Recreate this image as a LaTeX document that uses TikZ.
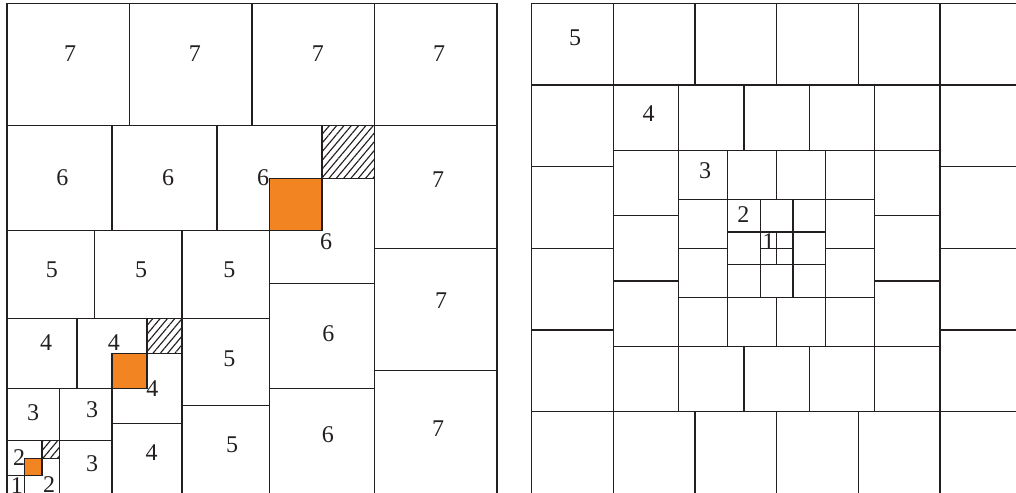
\documentclass[tikz,border=0pt]{standalone}
\usepackage{fontspec}
\setmainfont{Liberation Serif}
\usetikzlibrary{patterns.meta}
\definecolor{ink}{RGB}{35,31,32}
\definecolor{org}{RGB}{242,133,34}
\begin{document}
\begin{tikzpicture}[x=1pt,y=1pt,
  sq/.style={draw=ink, line width=1pt},
  lab/.style={font=\fontsize{18}{18}\selectfont, text=ink, inner sep=0pt},
  hatch/.style={pattern={Lines[angle=50,distance=4.2pt,line width=0.85pt]}, pattern color=ink},
  over/.style={fill=org}]
\useasboundingbox (0,0) rectangle (762,369);
\clip (0,0) rectangle (762,369);
% ---------- left panel ----------
\begin{scope}[shift={(5.25pt,-0.975pt)}, x=13.125pt, y=13.125pt]
  \fill[over] (15,15) rectangle (18,18);
  \fill[over] (6,6) rectangle (8,8);
  \fill[over] (1,1) rectangle (2,2);
  \fill[hatch] (18,18) rectangle (21,21);
  \fill[hatch] (8,8) rectangle (10,10);
  \fill[hatch] (2,2) rectangle (3,3);
  \foreach \a/\b/\s in {0/21/7,7/21/7,14/21/7,21/21/7,21/14/7,21/7/7,21/0/7,
                        0/15/6,6/15/6,12/15/6,15/12/6,15/6/6,15/0/6,
                        0/10/5,5/10/5,10/10/5,10/5/5,10/0/5,
                        0/6/4,4/6/4,6/4/4,6/0/4,
                        0/3/3,3/3/3,3/0/3,
                        0/1/2,1/0/2,
                        0/0/1}
    \draw[sq] (\a,\b) rectangle ++(\s,\s);
  \foreach \x/\y/\t [count=\k] in {3.6/25.11/7,10.74/25.14/7,17.77/25.14/7,24.69/25.14/7,
      24.63/17.91/7,24.8/11.03/7,24.63/3.69/7,
      3.17/18.03/6,9.2/18.03/6,14.63/18.03/6,18.23/14.37/6,18.37/9.11/6,18.34/3.33/6,
      2.57/12.8/5,7.67/12.8/5,12.71/12.8/5,12.71/7.66/5,12.86/2.8/5,
      2.23/8.63/4,6.11/8.63/4,8.31/6.0/4,8.27/2.31/4,
      1.49/4.6/3,4.86/4.8/3,4.86/1.67/3,
      0.69/2.03/2,2.4/0.5/2,
      0.57/0.45/1}
    \node[lab] (L\k) at (\x,\y) {\t};
\end{scope}
% ---------- right panel ----------
\begin{scope}[shift={(398.8pt,366.4pt)}, x=12.25pt, y=-12.25pt]
  \foreach \a/\s/\n in {0/5/6,5/4/5,9/3/4,12/2/3,14/1/2} {
    \pgfmathtruncatemacro\m{\n-1}
    \foreach \i in {0,...,\m} {
      \draw[sq] (\a+\s*\i,\a) rectangle ++(\s,\s);
      \draw[sq] (\a+\s*\i,30-\a-\s) rectangle ++(\s,\s);
      \draw[sq] (\a,\a+\s*\i) rectangle ++(\s,\s);
      \draw[sq] (30-\a-\s,\a+\s*\i) rectangle ++(\s,\s);
    }
  }
  \foreach \x/\y/\t [count=\k] in {2.65/2.12/5,7.16/6.76/4,10.61/10.24/3,12.96/12.93/2,14.51/14.56/1}
    \node[lab] (R\k) at (\x,\y) {\t};
\end{scope}
\end{tikzpicture}
\end{document}
